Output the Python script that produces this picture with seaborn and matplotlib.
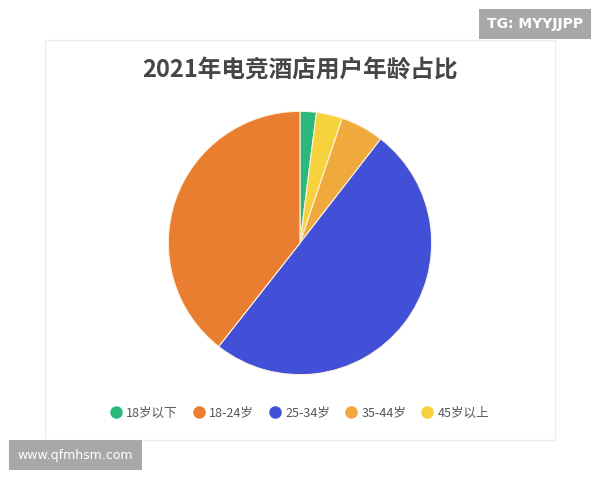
import matplotlib
matplotlib.use("Agg")
import matplotlib.pyplot as plt
from matplotlib.lines import Line2D
from matplotlib.patches import Rectangle
import seaborn as sns

# 数据
categories = ["18岁以下", "18-24岁", "25-34岁", "35-44岁", "45岁以上"]
shares = [2.0, 39.4, 50.1, 5.3, 3.2]
colors = ["#2bb97b", "#e97e30", "#4150d6", "#f0a93c", "#f6d23d"]
# 饼图绘制顺序（自顶部顺时针）
draw_order = ["18岁以下", "45岁以上", "35-44岁", "25-34岁", "18-24岁"]

sns.set_theme(style="white")
plt.rcParams['font.family'] = ['Noto Sans CJK SC', 'DejaVu Sans']

fig = plt.figure(figsize=(6, 4.8), dpi=100)
fig.patch.set_facecolor("white")

# 卡片背景
card = Rectangle((45 / 600, 1 - 440 / 480), 510 / 600, 400 / 480,
                 transform=fig.transFigure, facecolor="white",
                 edgecolor="#ececec", linewidth=0.8, zorder=-5)
fig.patches.append(card)

ax = fig.add_axes([167 / 600, 104 / 480, 266 / 600, 266 / 480])
ax.set_zorder(2)
ax.patch.set_alpha(0)
idx = [categories.index(c) for c in draw_order]
ax.pie([shares[i] for i in idx], colors=[colors[i] for i in idx],
       startangle=90, counterclock=False,
       wedgeprops=dict(edgecolor="#fdf3e0", linewidth=0.8))
ax.set_xlim(-1.01, 1.01)
ax.set_ylim(-1.01, 1.01)
ax.set_aspect("equal")
ax.axis("off")

fig.text(0.5, 1 - 70 / 480, "2021年电竞酒店用户年龄占比", ha="center", va="center",
         fontsize=17, fontweight="bold", color="#464646")

handles = [Line2D([0], [0], marker="o", linestyle="", markersize=8,
                  markerfacecolor=c, markeredgecolor=c) for c in colors]
fig.legend(handles, categories, loc="center", bbox_to_anchor=(0.5, 1 - 413 / 480),
           ncol=5, frameon=False, fontsize=9, handlelength=0.8, handletextpad=0.4,
           columnspacing=1.3, labelcolor="#555555")

# 水印
fig.text(535 / 600, 1 - 24 / 480, "TG: MYYJJPP", ha="center", va="center",
         fontsize=10, fontweight="bold", color="white", family=["DejaVu Sans"],
         bbox=dict(boxstyle="square,pad=0.6", facecolor="#a8a8a8", edgecolor="none"))
fig.text(75 / 600, 1 - 455 / 480, "www.qfmhsm.com", ha="center", va="center",
         fontsize=9, color="white", family=["DejaVu Sans"],
         bbox=dict(boxstyle="square,pad=0.7", facecolor="#a8a8a8", edgecolor="none"))

fig.savefig("out.png", dpi=100, facecolor="white")
